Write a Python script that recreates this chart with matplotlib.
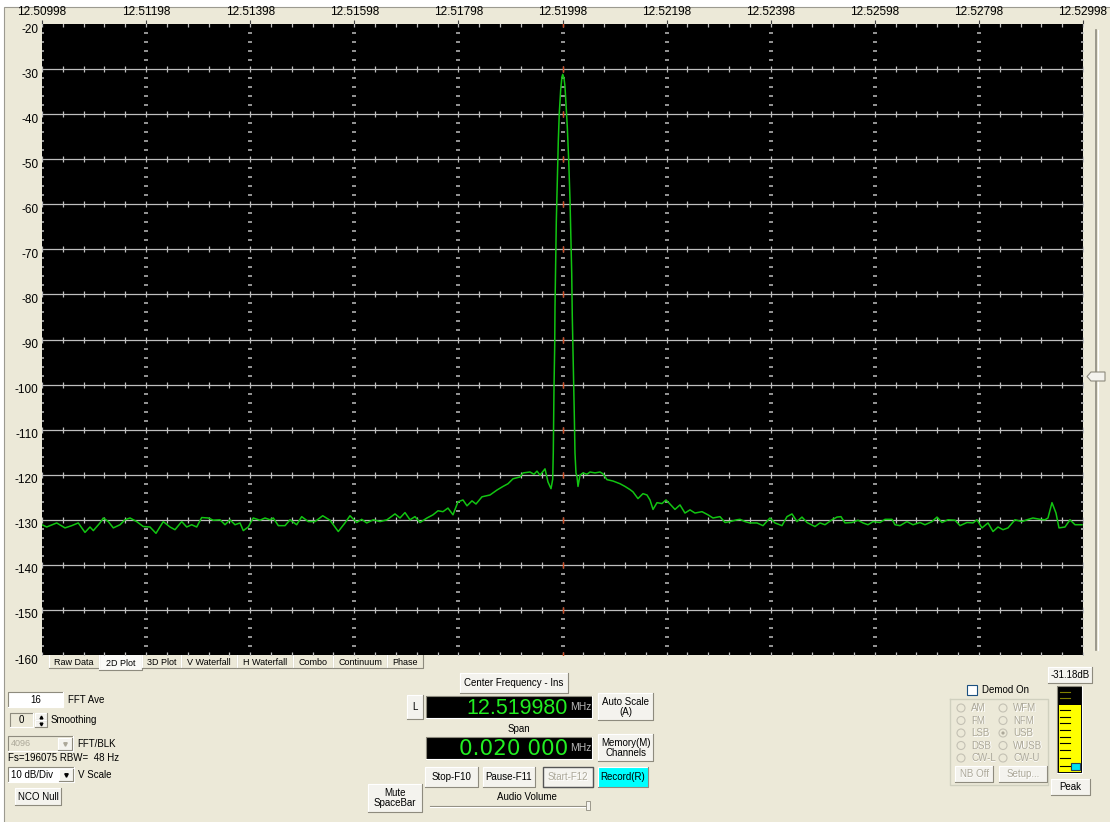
import numpy as np
import matplotlib
matplotlib.use('Agg')
import matplotlib.pyplot as plt
from matplotlib.patches import Rectangle, Circle, Polygon
import matplotlib.transforms as mtransforms

plt.rcParams['font.family'] = ['Liberation Sans', 'DejaVu Sans']

# Eixo de frequencia (MHz) e escala vertical (dB)
START_MHZ = 12.50998
SPAN_MHZ = 0.02
freq_labels = ['12.50998', '12.51198', '12.51398', '12.51598', '12.51798', '12.51998',
               '12.52198', '12.52398', '12.52598', '12.52798', '12.52998']
db_ticks = [-160, -150, -140, -130, -120, -110, -100, -90, -80, -70, -60, -50, -40, -30, -20]

# Traco do espectro: offset em kHz a partir de 12.50998 MHz, nivel em dB
left_khz = [0.000, 0.090, 0.282, 0.442, 0.571, 0.697, 0.826, 0.922, 0.986, 1.114,
            1.178, 1.274, 1.370, 1.499, 1.595, 1.691, 1.819, 1.946, 2.075, 2.190,
            2.330, 2.459, 2.555, 2.684, 2.780, 2.876, 2.972, 3.068, 3.195, 3.291,
            3.420, 3.516, 3.612, 3.708, 3.804, 3.867, 3.963, 4.059, 4.188, 4.284,
            4.380, 4.444, 4.540, 4.669, 4.765, 4.893, 4.989, 5.116, 5.245, 5.393,
            5.533, 5.692, 5.821, 5.917, 6.046, 6.142, 6.238, 6.365, 6.494,
            6.628, 6.782, 6.878, 6.974, 7.070, 7.166, 7.262, 7.397, 7.512, 7.608,
            7.704, 7.800, 7.896, 7.992, 8.088, 8.165, 8.261, 8.338, 8.453, 8.607,
            8.741, 8.857, 8.953, 9.049, 9.183, 9.241, 9.375, 9.452, 9.510, 9.568,
            9.664, 9.721, 9.779]
left_db = [-131.1, -131.6, -130.7, -131.8, -131.3, -130.7, -132.8, -131.6, -132.4, -130.7,
           -129.6, -130.4, -131.8, -131.1, -130.0, -129.6, -130.4, -131.5, -131.6, -133.0,
           -130.4, -131.6, -132.2, -130.4, -131.6, -131.1, -131.6, -129.5, -129.6, -130.1,
           -130.0, -131.1, -130.0, -131.1, -130.7, -132.4, -131.6, -129.6, -130.1, -129.6,
           -130.0, -129.6, -131.3, -131.3, -130.0, -131.1, -129.3, -130.4, -130.4, -129.1,
           -130.1, -132.6, -130.7, -129.1, -130.6, -129.9, -130.7, -130.0, -130.4,
           -130.0, -128.7, -129.6, -128.4, -130.0, -129.3, -130.6, -129.6, -128.9, -128.0,
           -128.2, -127.4, -128.9, -126.0, -125.6, -126.9, -125.8, -126.5, -124.9, -124.5,
           -123.4, -122.6, -122.0, -120.9, -120.5, -119.6, -119.4, -119.9, -119.2, -120.1,
           -118.7, -121.6, -123.1]

carrier_khz = [9.812, 9.823, 9.837, 9.850, 9.856, 9.869, 9.881, 9.900, 9.919, 9.938,
               9.965, 9.990, 10.004, 10.029, 10.048, 10.067, 10.092, 10.119, 10.144, 10.163,
               10.177, 10.188, 10.207, 10.226, 10.240, 10.259]
carrier_db = [-121.0, -115.1, -100.4, -91.6, -82.7, -73.0, -63.8, -55.0, -46.1, -39.8,
              -34.6, -31.7, -31.18, -32.0, -33.9, -37.6, -42.8, -50.2, -59.0, -67.9,
              -75.3, -84.9, -95.2, -106.3, -115.2, -119.6]

right_khz = [10.279, 10.298, 10.336, 10.394, 10.471, 10.528, 10.624, 10.720, 10.778, 10.855,
             10.970, 11.105, 11.201, 11.297, 11.354, 11.450, 11.546, 11.623, 11.681, 11.739,
             11.816, 11.911, 11.988, 12.065, 12.161, 12.257, 12.353, 12.449, 12.545, 12.680,
             12.795, 12.891, 13.026, 13.122, 13.218, 13.352,
             13.410, 13.506, 13.602, 13.736, 13.852, 13.986, 14.082, 14.217, 14.313, 14.409,
             14.505, 14.601, 14.697, 14.851, 14.947, 15.043, 15.177, 15.274, 15.350, 15.427,
             15.562, 15.677, 15.773, 15.869, 15.965, 16.099, 16.196, 16.330, 16.388, 16.484,
             16.618, 16.734, 16.868, 16.964, 17.099, 17.195, 17.291, 17.406, 17.541, 17.637,
             17.771, 17.886, 17.963, 18.059, 18.175, 18.271, 18.367, 18.463, 18.559, 18.693,
             18.828, 18.924, 19.039, 19.174, 19.270, 19.327, 19.404, 19.481, 19.539, 19.654,
             19.750, 19.846, 19.980]
right_db = [-120.5, -122.6, -120.1, -119.6, -119.9, -119.4, -119.6, -119.4, -119.8, -121.1,
            -121.4, -122.0, -122.6, -123.3, -123.8, -125.3, -124.2, -124.5, -125.6, -127.7,
            -126.2, -126.4, -125.6, -126.5, -127.7, -126.7, -128.5, -127.8, -128.5, -128.2,
            -128.9, -129.6, -129.3, -130.6, -130.4, -130.0,
            -129.9, -130.4, -130.7, -130.7, -131.3, -129.6, -130.7, -131.3, -129.3, -128.7,
            -130.4, -129.4, -130.6, -131.5, -130.7, -131.1, -130.0, -129.4, -129.3, -130.7,
            -130.6, -130.1, -130.7, -131.1, -130.4, -130.6, -129.9, -129.9, -131.1, -131.3,
            -130.4, -131.1, -130.6, -131.1, -130.4, -129.4, -130.6, -130.0, -130.1, -131.3,
            -130.6, -130.7, -130.0, -131.8, -130.7, -132.6, -131.6, -132.2, -131.8, -130.0,
            -130.4, -130.0, -129.6, -129.9, -130.0, -129.6, -126.2, -128.5, -131.8, -131.6,
            -130.0, -131.1, -131.1]

# Textos do painel
tab_names = ['Raw Data', '2D Plot', '3D Plot', 'V Waterfall', 'H Waterfall', 'Combo', 'Continuum', 'Phase']
center_readout = '12.519980'
span_readout = '0.020 000'
peak_readout = '-31.18dB'
modes_left = ['AM', 'FM', 'LSB', 'DSB', 'CW-L']
modes_right = ['WFM', 'NFM', 'USB', 'WUSB', 'CW-U']

W, H = 1110, 822
FACE = '#ECE9D8'
BTN = '#F4F3EE'
GRID = '#BEBEBE'
RED = '#D04A20'
GREY_TXT = '#ACA899'

fig = plt.figure(figsize=(W / 100, H / 100), dpi=100, facecolor='white')
bg = fig.add_axes([0, 0, 1, 1], zorder=0)
bg.set_xlim(0, W)
bg.set_ylim(H, 0)
bg.axis('off')


def rect(x, y, w, h, fc, ec='none', lw=0.8, z=1):
    bg.add_patch(Rectangle((x, y), w, h, facecolor=fc, edgecolor=ec, linewidth=lw, zorder=z))


def bevel(x, y, w, h, raised=True, z=2):
    tl, br = ('white', '#8E8B7E') if raised else ('#8E8B7E', 'white')
    bg.plot([x, x, x + w], [y + h, y, y], color=tl, lw=0.8, zorder=z)
    bg.plot([x, x + w, x + w], [y + h, y + h, y], color=br, lw=0.8, zorder=z)


def label(x, y, s, ha='left', fs=7, color='black', disabled=False):
    if disabled:
        bg.text(x + 0.8, y + 0.8, s, ha=ha, va='center', fontsize=fs, color='white', zorder=3)
        color = GREY_TXT
    bg.text(x, y, s, ha=ha, va='center', fontsize=fs, color=color, zorder=4, linespacing=1.0)


def button(x, y, w, h, s, fc=BTN, fs=7, disabled=False):
    rect(x, y, w, h, fc)
    bevel(x, y, w, h)
    label(x + w / 2, y + h / 2, s, ha='center', fs=fs, disabled=disabled)


# janela
rect(3.5, 7.5, W, H, FACE, ec='#9C9A90', lw=0.8, z=0)

# barra de rolagem vertical
bg.plot([1096, 1096], [30, 650], color='#8E8B7E', lw=1.2)
bg.plot([1098, 1098], [30, 650], color='white', lw=0.8)
bg.add_patch(Polygon([(1087, 376.5), (1091, 372), (1105, 372), (1105, 381), (1091, 381)],
                     facecolor=BTN, edgecolor='#8E8B7E', lw=0.8, zorder=3))

# abas
tab_edges = [49, 99, 142, 181, 237, 293, 333, 387, 423]
for i, name in enumerate(tab_names):
    x0, x1 = tab_edges[i], tab_edges[i + 1]
    hh = 15 if name == '2D Plot' else 13
    rect(x0, 655, x1 - x0, hh, '#FAFAF7' if name == '2D Plot' else FACE)
    bg.plot([x0, x0], [655, 655 + hh], color='white', lw=0.8)
    bg.plot([x0, x1, x1], [655 + hh, 655 + hh, 655], color='#8E8B7E', lw=0.8)
    label((x0 + x1) / 2, 655 + hh / 2 + 0.5, name, ha='center', fs=6.5)

# controles da esquerda
rect(8, 692, 55, 15, 'white')
bevel(8, 692, 55, 15, raised=False)
label(36, 699.5, '16', ha='center')
label(68, 699.5, 'FFT Ave')
rect(10, 713, 23, 14, FACE)
bevel(10, 713, 23, 14, raised=False)
label(21.5, 720, '0', ha='center')
button(35, 713, 12, 7, '')
button(35, 720, 12, 7, '')
bg.plot([41], [716.5], marker='^', ms=2, color='black', zorder=5)
bg.plot([41], [723.5], marker='v', ms=2, color='black', zorder=5)
label(51, 720, 'Smoothing')
rect(8, 736, 65, 15, FACE)
bevel(8, 736, 65, 15, raised=False)
label(11, 743.5, '4096', fs=6.5, color=GREY_TXT)
button(58, 737.5, 14, 12, '')
bg.plot([65], [743.5], marker='v', ms=2.5, color=GREY_TXT, zorder=5)
label(77, 743.5, 'FFT/BLK')
label(8, 757.5, 'Fs=196075 RBW=  48 Hz')
rect(8, 767, 66, 15, 'white')
bevel(8, 767, 66, 15, raised=False)
label(11, 774.5, '10 dB/Div')
button(59, 768.5, 14, 12, '')
bg.plot([66], [774.5], marker='v', ms=2.5, color='black', zorder=5)
label(78, 774.5, 'V Scale')
button(15, 788, 46, 17, 'NCO Null')

# controles centrais
button(460, 673, 108, 20, 'Center Frequency - Ins')
button(407, 695, 16, 24, 'L')
for y0, txt, fam in [(696, center_readout, 'Liberation Sans'), (737, span_readout, 'DejaVu Sans')]:
    rect(426, y0, 166, 22, 'black')
    bevel(426, y0, 166, 22, raised=False)
    bg.text(568, y0 + 12, txt, ha='right', va='center', fontsize=15.5, color='#22EE22',
            family=fam, zorder=4)
    label(570, y0 + 11, 'MHz', fs=7.5, color='#B8B8B8')
button(598, 693, 55, 27, 'Auto Scale\n(A)')
label(508, 729, 'Span')
button(598, 734, 55, 27, 'Memory(M)\nChannels')
button(425, 767, 53, 20, 'Stop-F10')
button(483, 767, 52, 20, 'Pause-F11')
button(543, 767, 50, 20, 'Start-F12', disabled=True)
rect(543, 767, 50, 20, 'none', ec='#555555', lw=1.0, z=3)
button(598, 767, 50, 20, 'Record(R)', fc='#00FFFF')
button(368, 784, 54, 28, 'Mute\nSpaceBar')
label(497, 797, 'Audio Volume')
bg.plot([430, 588], [805.5, 805.5], color='#8E8B7E', lw=0.8)
bg.plot([430, 588], [807, 807], color='white', lw=0.8)
rect(586, 801, 4, 9, BTN, ec='#8E8B7E', lw=0.6, z=3)

# painel de demodulacao
rect(967, 685, 10, 10, 'white', ec='#1C5180', lw=0.8)
label(982, 690, 'Demod On')
bg.plot([950, 950, 1048, 1048, 950], [699, 785, 785, 699, 699], color='#D0D0BF', lw=1.0)
for i in range(5):
    yy = 708 + i * 12.5
    for cx, names in [(961, modes_left), (1003, modes_right)]:
        bg.add_patch(Circle((cx, yy), 4, facecolor='none', edgecolor='#C4C1B4', lw=0.8, zorder=3))
        label(cx + 10, yy, names[i], fs=7, disabled=True)
bg.add_patch(Circle((1003, 733), 1.6, facecolor=GREY_TXT, edgecolor='none', zorder=4))
button(955, 766, 38, 16, 'NB Off', disabled=True)
button(999, 766, 48, 16, 'Setup...', disabled=True)

# medidor de pico
button(1048, 667, 44, 16, peak_readout)
rect(1057, 686, 25, 87, 'black')
bevel(1057, 686, 25, 87, raised=False)
rect(1059, 705, 22, 67, '#FFFF00', z=2)
for yy in [692, 698, 710, 717, 723, 730, 737, 743, 750, 758, 766]:
    bg.plot([1060, 1070], [yy, yy], color='#808000' if yy < 705 else 'black', lw=0.8, zorder=3)
rect(1071, 763, 9, 7, '#00E0F0', ec='#204060', lw=0.8, z=4)
button(1051, 779, 39, 16, 'Peak')

# grafico do espectro
ax = fig.add_axes([42 / W, 1 - 655 / H, 1041 / W, 631 / H], zorder=2)
ax.set_facecolor('black')
x_lo, x_hi = START_MHZ, START_MHZ + SPAN_MHZ
ax.set_xlim(x_lo, x_hi)
ax.set_ylim(-160, -20)
for s in ax.spines.values():
    s.set_visible(False)

major_x = np.linspace(x_lo, x_hi, len(freq_labels))
minor_x = np.linspace(x_lo, x_hi, 51)
center_x = major_x[5]
grid_db = db_ticks[1:-1]
dash_db = [v for v in range(-158, -20, 2) if v % 10]

for yv in grid_db:
    ax.axhline(yv, color=GRID, lw=0.9, zorder=1)
for yv in db_ticks:
    ax.plot(minor_x, [yv] * len(minor_x), ls='none', marker='|', ms=4.5, mew=0.9, color=GRID, zorder=2)
ax.plot([center_x] * len(db_ticks), db_ticks, ls='none', marker='|', ms=4.5, mew=1.0, color=RED, zorder=3)
for xv in major_x:
    ax.plot([xv] * len(dash_db), dash_db, ls='none', marker='_', ms=3, mew=1.1, color=GRID, zorder=2)

freq_mhz = START_MHZ + np.array(left_khz + carrier_khz + right_khz) / 1000.0
level_db = np.array(left_db + carrier_db + right_db)
ax.plot(freq_mhz, level_db, color='#12C412', lw=1.1, zorder=5)

ax.xaxis.tick_top()
ax.set_xticks(major_x)
ax.set_xticklabels(freq_labels, fontsize=8.5)
ax.tick_params(axis='x', length=3, width=0.8, color='#404040', pad=1.0, bottom=False, top=True)
ax.set_yticks(db_ticks)
ax.set_yticklabels([str(v) for v in db_ticks], fontsize=8.5)
ax.tick_params(axis='y', length=0, pad=2.5)
shift = mtransforms.ScaledTranslation(0, -4 / 100, fig.dpi_scale_trans)
for t in ax.get_yticklabels():
    t.set_transform(t.get_transform() + shift)

fig.savefig('out.png', dpi=100, facecolor='white')
